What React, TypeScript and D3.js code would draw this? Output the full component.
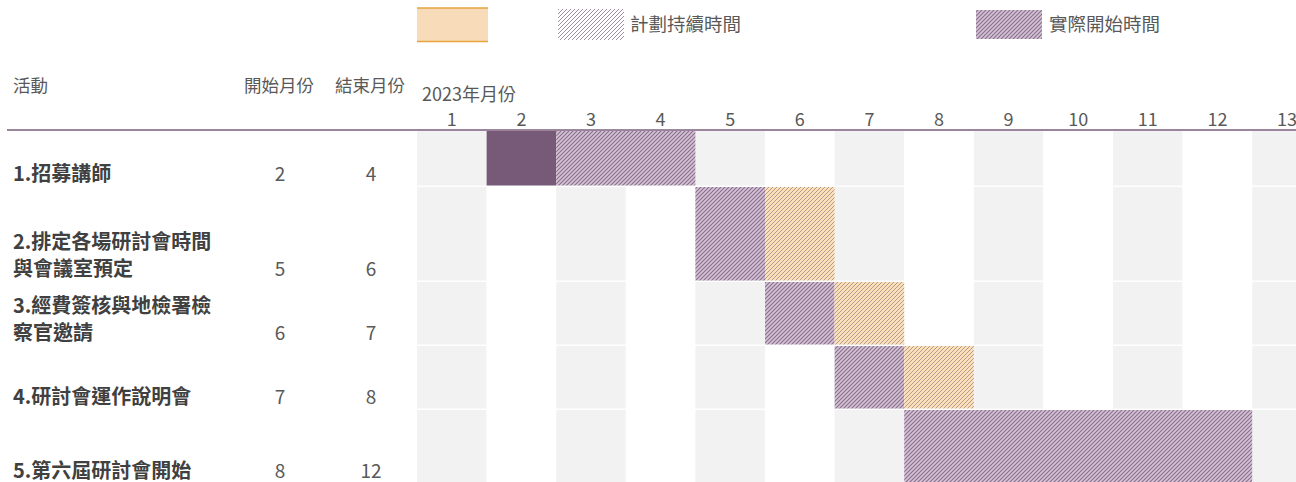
import React from 'react';
import * as d3 from 'd3';

// 活動資料
const activities: string[][] = [
  ['1.招募講師'],
  ['2.排定各場研討會時間', '與會議室預定'],
  ['3.經費簽核與地檢署檢', '察官邀請'],
  ['4.研討會運作說明會'],
  ['5.第六屆研討會開始'],
];
const startMonths = [2, 5, 6, 7, 8];
const endMonths = [4, 6, 7, 8, 12];
const months = [1, 2, 3, 4, 5, 6, 7, 8, 9, 10, 11, 12, 13];

// 每列的色塊 (kind: solid = 實心, actual = 紫色斜線, over = 橘色斜線)
const segRow = [0, 0, 1, 1, 2, 2, 3, 3, 4];
const segFrom = [2, 3, 5, 6, 6, 7, 7, 8, 8];
const segTo = [2, 4, 5, 6, 6, 7, 7, 8, 12];
const segKind = ['solid', 'actual', 'actual', 'over', 'actual', 'over', 'actual', 'over', 'actual'];

const legendLabels = ['', '計劃持續時間', '實際開始時間'];

const W = 1296;
const H = 482;
const FONT = '"Noto Sans CJK TC", "Noto Sans", sans-serif';
const rowHeights = [56, 95, 64, 64, 74];
const headerY = 130;
const gap = 1.5;

const App: React.FC = () => {
  const x = d3.scaleBand<number>()
    .domain(months)
    .range([417, 417 + months.length * 69.6]);

  const rowTops: number[] = [];
  let acc = headerY + 1;
  rowHeights.forEach(h => { rowTops.push(acc); acc += h; });
  const y = (i: number) => rowTops[i];
  const rh = (i: number) => rowHeights[i] - gap;

  const fillFor = (k: string) =>
    k === 'solid' ? '#765a78' : k === 'actual' ? 'url(#hatchActual)' : 'url(#hatchOver)';

  return (
    <svg width={W} height={H} style={{ position: 'absolute', left: 0, top: 0, fontFamily: FONT }}>
      <defs>
        <pattern id="hatchActual" patternUnits="userSpaceOnUse" width={4} height={4}>
          <rect width={4} height={4} fill="#d4c3d5" />
          <path d="M-1,1 l2,-2 M0,4 l4,-4 M3,5 l2,-2" stroke="#8a6d8c" strokeWidth={1.1} />
        </pattern>
        <pattern id="hatchOver" patternUnits="userSpaceOnUse" width={4} height={4}>
          <rect width={4} height={4} fill="#fadfb8" />
          <path d="M-1,1 l2,-2 M0,4 l4,-4 M3,5 l2,-2" stroke="#b39a8e" strokeWidth={1} />
        </pattern>
        <pattern id="hatchPlan" patternUnits="userSpaceOnUse" width={4} height={4}>
          <rect width={4} height={4} fill="#ffffff" />
          <path d="M-1,1 l2,-2 M0,4 l4,-4 M3,5 l2,-2" stroke="#a08aa4" strokeWidth={1} />
        </pattern>
      </defs>

      {/* 圖例 */}
      <g>
        <rect x={417} y={8} width={71} height={34} fill="#f8dcb9" />
        <line x1={417} x2={488} y1={8} y2={8} stroke="#e6a33e" strokeWidth={1.4} />
        <line x1={417} x2={488} y1={41.5} y2={41.5} stroke="#e6a33e" strokeWidth={1.4} />
        <rect x={558} y={9} width={66} height={31} fill="url(#hatchPlan)" />
        <text x={630} y={31} fontSize={18.5} fill="#595959">{legendLabels[1]}</text>
        <rect x={976} y={10} width={66} height={29} fill="url(#hatchActual)" />
        <text x={1049} y={31} fontSize={18.5} fill="#595959">{legendLabels[2]}</text>
      </g>

      {/* 表頭 */}
      <g fill="#595959" fontSize={17.5}>
        <text x={13} y={92}>活動</text>
        <text x={244} y={92}>開始月份</text>
        <text x={335} y={92}>結束月份</text>
        <text x={422} y={101} fontSize={18}>2023年月份</text>
        {months.map(m => (
          <text key={m} x={(x(m) as number) + x.bandwidth() / 2} y={125.5} fontSize={18} textAnchor="middle">{m}</text>
        ))}
      </g>

      {/* 背景格 */}
      <g>
        {rowTops.map((_, i) => months.map(m => (
          <rect key={`${i}-${m}`} x={x(m)} y={y(i)} width={x.bandwidth()} height={rh(i)}
            fill={m % 2 === 1 ? '#f2f2f2' : '#ffffff'} />
        )))}
      </g>

      {/* 色塊 */}
      <g>
        {segRow.map((r, i) => (
          <rect key={i} x={x(segFrom[i])} y={y(r)}
            width={(x(segTo[i]) as number) + x.bandwidth() - (x(segFrom[i]) as number)}
            height={rh(r)} fill={fillFor(segKind[i])} />
        ))}
      </g>

      <line x1={7} x2={W} y1={headerY} y2={headerY} stroke="#7a5c7c" strokeWidth={1.5} />

      {/* 活動名稱與月份 */}
      <g>
        {activities.map((lines, i) => {
          const base = y(i) + rowHeights[i] - 6.5;
          return (
            <g key={i}>
              {lines.map((t, j) => (
                <text key={j} x={13} y={base - (lines.length - 1 - j) * 26.5} fontSize={20}
                  fontWeight="bold" fill="#404040">{t}</text>
              ))}
              <text x={280} y={base} fontSize={19} textAnchor="middle" fill="#595959">{startMonths[i]}</text>
              <text x={371} y={base} fontSize={19} textAnchor="middle" fill="#595959">{endMonths[i]}</text>
            </g>
          );
        })}
      </g>
    </svg>
  );
};

export default App;
